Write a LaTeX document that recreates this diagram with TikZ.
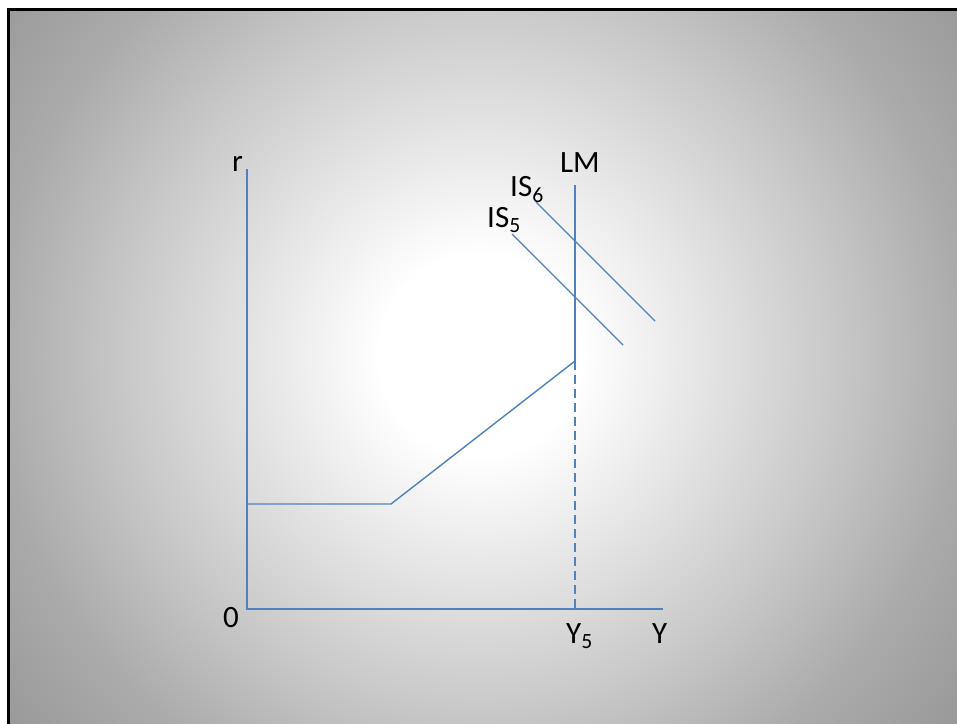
\documentclass[tikz,border=0pt]{standalone}
\usepackage{fontspec}
\setmainfont{Carlito}
\pgfdeclareradialshading{slidebg}{\pgfpoint{0bp}{0bp}}{%
  color(0bp)=(white); color(100bp)=(white); color(360bp)=(black!22); color(480bp)=(black!33); color(600bp)=(black!40); color(620bp)=(black!40)}
\definecolor{curveblue}{HTML}{4F81BD}
\tikzset{
  curve/.style={draw=curveblue, line width=1.4pt},
  dashcurve/.style={draw=curveblue, line width=1.4pt, dash pattern=on 9pt off 5pt},
  lbl/.style={inner sep=0pt, anchor=base west, font=\fontsize{31}{33}\selectfont, text=black}
}
\begin{document}
\begin{tikzpicture}[x=1pt,y=-1pt]
\useasboundingbox (0,0) rectangle (957,723);
% slide background
\begin{scope}
  \clip (8,8) rectangle (957,723);
  \path (480,355) node[inner sep=0pt] (bg) {\pgfuseshading{slidebg}};
\end{scope}
\draw[line width=3pt, line cap=rect] (8.5,723) -- (8.5,9.5) -- (957,9.5);
% coordinates
\coordinate (rtop) at (247,169);
\coordinate (orig) at (247,609);
\coordinate (yend) at (663,609);
\coordinate (flat) at (247,504);
\coordinate (kink) at (391,504);
\coordinate (lmk) at (575,361);
\coordinate (lmtop) at (575,185);
\coordinate (lmbot) at (575,609);
\coordinate (isfa) at (536,202);
\coordinate (isfb) at (655,321);
\coordinate (isva) at (512,234);
\coordinate (isvb) at (623,345);
% curves
\draw[curve] (rtop) -- (orig) -- (yend);
\draw[curve] (flat) -- (kink) -- (lmk);
\draw[curve] (lmtop) -- (lmk);
\draw[dashcurve] (lmk) -- (lmbot);
\draw[curve] (isfa) -- (isfb);
\draw[curve] (isva) -- (isvb);
% labels
\node[lbl] (lr) at (232,171) {r};
\node[lbl] (llm) at (560,172) {LM};
\node[lbl] (lis6) at (510,196) {IS\textsubscript{6}};
\node[lbl] (lis5) at (487,227) {IS\textsubscript{5}};
\node[lbl] (lzero) at (223,627) {0};
\node[lbl] (ly5) at (566,643) {Y\textsubscript{5}};
\node[lbl] (ly) at (652,643) {Y};
\end{tikzpicture}
\end{document}
